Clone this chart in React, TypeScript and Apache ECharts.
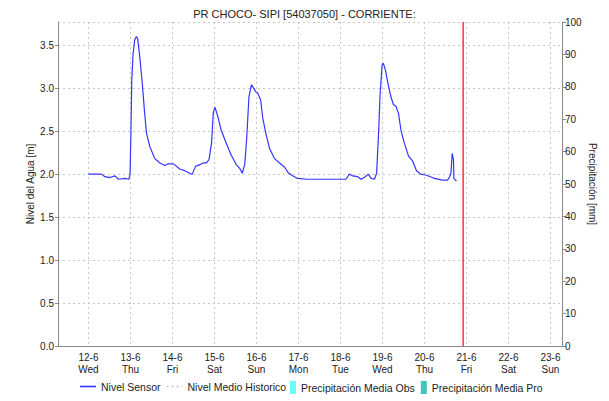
import React, { useEffect, useRef } from "react";
import * as echarts from "echarts";

// Day offsets from 12-6 00:00 (in days) and water level readings (m)
const dayOffsets = [
  0, 0.31, 0.39, 0.51, 0.63, 0.71, 0.87, 0.96, 0.99, 1.01, 1.03, 1.06, 1.10, 1.14, 1.17,
  1.22, 1.28, 1.33, 1.38, 1.46, 1.58, 1.70, 1.82, 1.90, 2.01, 2.05, 2.17, 2.29, 2.41,
  2.47, 2.55, 2.65, 2.73, 2.81, 2.87, 2.93, 2.97, 3.01, 3.08, 3.16, 3.28, 3.40, 3.52,
  3.61, 3.66, 3.72, 3.77, 3.82, 3.88, 3.93, 3.98, 4.03, 4.10, 4.15, 4.23, 4.31, 4.43,
  4.55, 4.67, 4.75, 4.86, 4.98, 5.2, 5.5, 5.8, 6.13, 6.21, 6.29, 6.41, 6.49, 6.59,
  6.66, 6.73, 6.81, 6.86, 6.91, 6.94, 6.99, 7.02, 7.07, 7.12, 7.20, 7.26, 7.32, 7.38,
  7.44, 7.52, 7.62, 7.72, 7.81, 7.91, 8.03, 8.19, 8.23, 8.43, 8.55, 8.60, 8.63, 8.66,
  8.69, 8.70, 8.76,
];
const levels = [
  2.00, 2.00, 1.97, 1.96, 1.98, 1.94, 1.95, 1.94, 2.00, 2.48, 3.08, 3.39, 3.56, 3.60, 3.58,
  3.37, 3.06, 2.75, 2.48, 2.32, 2.18, 2.13, 2.10, 2.12, 2.12, 2.11, 2.06, 2.04, 2.01,
  2.00, 2.09, 2.11, 2.13, 2.13, 2.17, 2.36, 2.71, 2.78, 2.67, 2.51, 2.36, 2.22, 2.11,
  2.06, 2.01, 2.11, 2.44, 2.90, 3.04, 3.00, 2.96, 2.94, 2.86, 2.65, 2.46, 2.30, 2.18,
  2.13, 2.08, 2.02, 1.98, 1.95, 1.94, 1.94, 1.94, 1.94, 2.00, 1.98, 1.97, 1.94, 1.97,
  2.00, 1.95, 1.94, 2.01, 2.51, 2.90, 3.27, 3.29, 3.21, 3.08, 2.90, 2.81, 2.79, 2.71,
  2.51, 2.36, 2.21, 2.15, 2.04, 2.00, 1.99, 1.96, 1.95, 1.93, 1.93, 1.97, 2.01, 2.24,
  2.17, 1.95, 1.92,
];
const historicLevels: number[][] = [];
const precipObs: number[][] = [];
const precipPro: number[][] = [];

const dayNames = ["Sun", "Mon", "Tue", "Wed", "Thu", "Fri", "Sat"];
const seriesNames = [
  "Nivel Sensor",
  "Nivel Medio Historico",
  "Precipitación Media Obs",
  "Precipitación Media Pro",
];
const titleText = "PR CHOCO- SIPI [54037050] - CORRIENTE:";
const nowOffset = 8.92; // red marker (days from 12-6)
const axisStartOffset = -0.726;
const axisEndOffset = 11.274;
const levelAxisMax = 3.77;

const DAY = 86400000;
const base = new Date(2024, 5, 12).getTime();
const FONT = "'Liberation Sans', Arial, sans-serif";

const LINE_ICON = "path://M0 0H16V1.6H0Z";
const DOT_ICON = "path://M0 0H2V1.6H0Z M5 0H7V1.6H5Z M10 0H12V1.6H10Z M15 0H16V1.6H15Z";
const BAR_ICON = "path://M0 0H6V13H0Z";

export default function App() {
  const ref = useRef<HTMLDivElement>(null);
  useEffect(() => {
    if (!ref.current) return;
    const chart = echarts.init(ref.current, null, { renderer: "svg" });
    const sensorData = dayOffsets.map((d, i) => [base + d * DAY, levels[i]]);
    const nowT = base + nowOffset * DAY;
    const legendText = { fontSize: 10.5, color: "#222", fontFamily: FONT };
    chart.setOption({
      animation: false,
      textStyle: { fontFamily: FONT },
      title: {
        text: titleText,
        left: "center",
        top: 3,
        textStyle: { fontSize: 11, fontWeight: "normal", color: "#222", fontFamily: FONT },
      },
      grid: { left: 58, right: 47, top: 22, bottom: 55, containLabel: false },
      legend: [
        {
          top: 381,
          left: 80,
          itemWidth: 16,
          itemHeight: 12,
          itemGap: 6,
          padding: 0,
          textStyle: legendText,
          data: [
            { name: seriesNames[0], icon: LINE_ICON },
            { name: seriesNames[1], icon: DOT_ICON },
          ],
        },
        {
          top: 381,
          left: 290,
          itemWidth: 6,
          itemHeight: 13,
          itemGap: 6,
          padding: 0,
          textStyle: legendText,
          data: [
            { name: seriesNames[2], icon: BAR_ICON },
            { name: seriesNames[3], icon: BAR_ICON },
          ],
        },
      ],
      xAxis: [
        {
          type: "time",
          min: base + axisStartOffset * DAY,
          max: base + axisEndOffset * DAY,
          minInterval: DAY,
          maxInterval: DAY,
          axisLine: { show: true, lineStyle: { color: "#555", type: "dotted", width: 1 } },
          axisTick: { show: false },
          axisLabel: {
            fontSize: 10,
            color: "#222",
            lineHeight: 12,
            margin: 5,
            fontFamily: FONT,
            formatter: (val: number) => {
              const dt = new Date(val);
              return `${dt.getDate()}-${dt.getMonth() + 1}\n${dayNames[dt.getDay()]}`;
            },
          },
          splitLine: { show: true, lineStyle: { color: "#c8c8c8", type: [2, 3], width: 1 } },
        },
        {
          type: "value",
          position: "top",
          min: 0,
          max: 1,
          axisLine: { show: true, lineStyle: { color: "#888", width: 1 } },
          axisTick: { show: false },
          axisLabel: { show: false },
          splitLine: { show: false },
        },
      ],
      yAxis: [
        {
          type: "value",
          min: 0,
          max: levelAxisMax,
          interval: 0.5,
          name: "Nivel del Agua [m]",
          nameLocation: "middle",
          nameGap: 23,
          nameMoveOverlap: false,
          nameTextStyle: { fontSize: 10, color: "#222", fontFamily: FONT },
          axisLine: { show: true, lineStyle: { color: "#888" } },
          axisTick: { show: true, length: 3, lineStyle: { color: "#888" } },
          axisLabel: {
            fontSize: 10,
            color: "#222",
            margin: 4,
            showMaxLabel: false,
            fontFamily: FONT,
            formatter: (v: number) => v.toFixed(1),
          },
          splitLine: { show: true, lineStyle: { color: "#c8c8c8", type: [2, 3], width: 1 } },
        },
        {
          type: "value",
          min: 0,
          max: 100,
          interval: 10,
          position: "right",
          name: "Precipitación [mm]",
          nameLocation: "middle",
          nameGap: 25,
          nameRotate: -90,
          nameMoveOverlap: false,
          nameTextStyle: { fontSize: 10, color: "#222", fontFamily: FONT },
          axisLine: { show: true, lineStyle: { color: "#888" } },
          axisTick: { show: true, length: 4, lineStyle: { color: "#888" } },
          axisLabel: { fontSize: 10, color: "#222", margin: 3, fontFamily: FONT },
          splitLine: { show: false },
        },
      ],
      series: [
        {
          name: seriesNames[0],
          type: "line",
          yAxisIndex: 0,
          data: sensorData,
          showSymbol: false,
          symbol: "none",
          color: "#3535ff",
          lineStyle: { color: "#3535ff", width: 1.2 },
        },
        {
          name: "now",
          type: "line",
          yAxisIndex: 0,
          data: [
            [nowT, 0],
            [nowT, levelAxisMax],
          ],
          silent: true,
          symbol: "none",
          color: "#ff0000",
          lineStyle: { color: "#ff0000", width: 1.2 },
          emphasis: { disabled: true },
        },
        {
          name: seriesNames[1],
          type: "line",
          yAxisIndex: 0,
          data: historicLevels,
          symbol: "none",
          color: "#c4c4c4",
          itemStyle: { color: "#c4c4c4" },
          lineStyle: { color: "#c4c4c4", type: [3, 4], width: 2 },
        },
        {
          name: seriesNames[2],
          type: "line",
          yAxisIndex: 1,
          data: precipObs,
          symbol: "none",
          color: "#66ffff",
          itemStyle: { color: "#66ffff" },
        },
        {
          name: seriesNames[3],
          type: "line",
          yAxisIndex: 1,
          data: precipPro,
          symbol: "none",
          color: "#40c4bc",
          itemStyle: { color: "#40c4bc" },
        },
      ],
    });
    return () => chart.dispose();
  }, []);
  return (
    <div
      ref={ref}
      style={{ position: "fixed", left: 0, top: 0, width: 609, height: 401, background: "#fff" }}
    />
  );
}
